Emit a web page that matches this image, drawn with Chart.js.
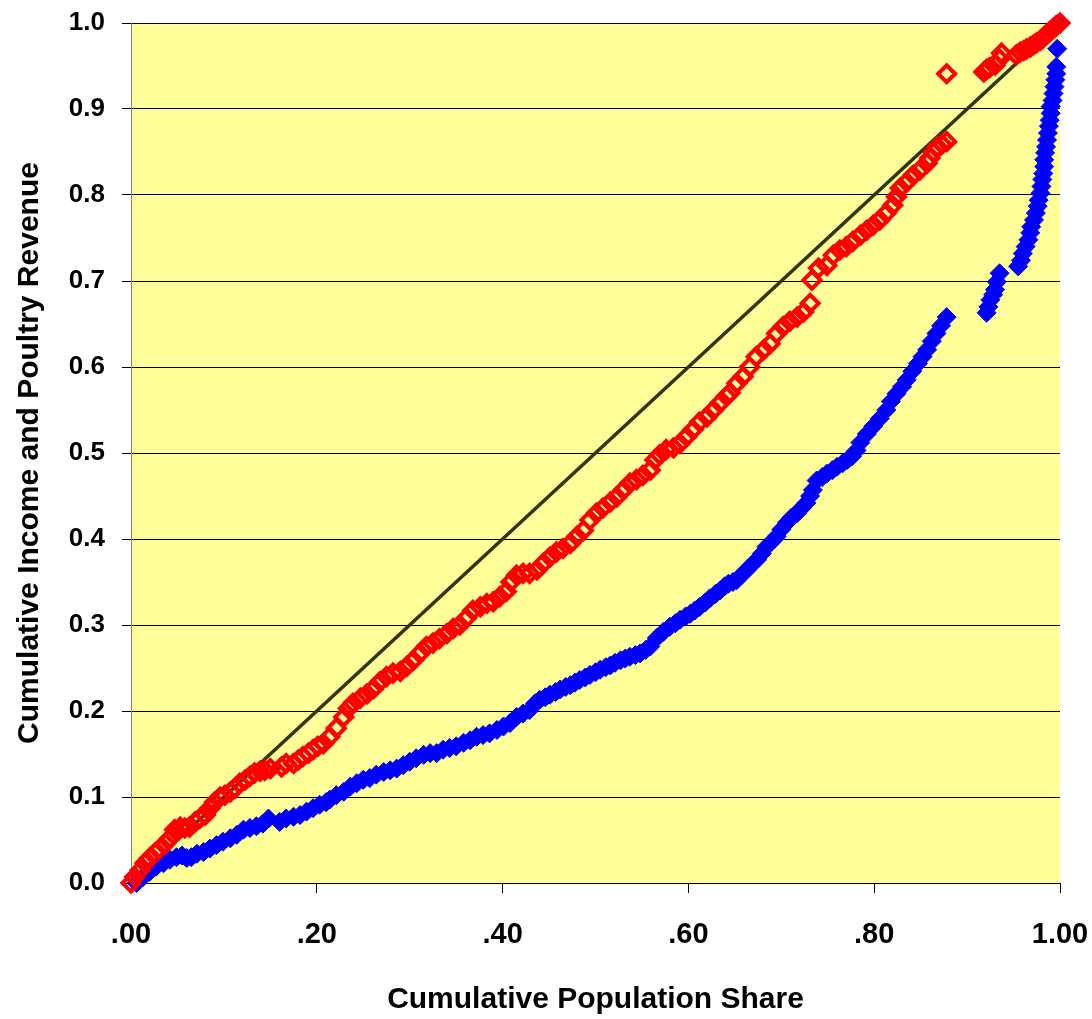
<!DOCTYPE html>
<html>
<head>
<meta charset="utf-8">
<title>Cumulative shares</title>
<script src="https://cdn.jsdelivr.net/npm/chart.js@4/dist/chart.umd.min.js"></script>
<style>
  html, body { margin: 0; padding: 0; background: #fff; }
  #wrap { width: 1092px; height: 1019px; }
</style>
</head>
<body>
<div id="wrap"><canvas id="lorenz" width="1092" height="1019"></canvas></div>
<script>
// --- donnees : [part de population cumulee, part cumulee] ---

// serie rouge (losanges vides)
const redSeries = [
  [0, 0], [0.004, 0.007], [0.010, 0.015], [0.015, 0.023], [0.020, 0.029], [0.026, 0.035], [0.031, 0.040],
  [0.037, 0.046], [0.042, 0.052], [0.047, 0.062], [0.053, 0.065], [0.058, 0.064], [0.063, 0.065], [0.069, 0.071],
  [0.074, 0.075], [0.080, 0.079], [0.085, 0.087], [0.090, 0.094], [0.096, 0.100], [0.101, 0.102], [0.107, 0.106],
  [0.112, 0.110], [0.117, 0.116], [0.123, 0.120], [0.128, 0.124], [0.133, 0.128], [0.139, 0.130], [0.144, 0.131],
  [0.150, 0.133],
  [0.162, 0.135], [0.167, 0.139], [0.175, 0.139], [0.180, 0.143], [0.185, 0.147], [0.191, 0.151], [0.196, 0.155],
  [0.201, 0.159], [0.207, 0.162], [0.214, 0.170], [0.221, 0.180], [0.229, 0.193], [0.234, 0.203], [0.239, 0.209],
  [0.247, 0.215], [0.254, 0.220], [0.261, 0.226], [0.268, 0.234], [0.275, 0.240], [0.282, 0.244], [0.290, 0.246],
  [0.297, 0.252], [0.304, 0.259], [0.311, 0.267], [0.318, 0.275], [0.325, 0.279], [0.332, 0.284], [0.340, 0.290],
  [0.347, 0.296], [0.354, 0.300], [0.361, 0.308], [0.368, 0.317], [0.376, 0.321], [0.383, 0.325], [0.390, 0.327],
  [0.397, 0.333], [0.404, 0.339], [0.409, 0.350], [0.415, 0.358], [0.422, 0.360], [0.429, 0.360], [0.437, 0.364],
  [0.444, 0.372], [0.451, 0.379], [0.458, 0.385], [0.465, 0.389], [0.473, 0.395], [0.480, 0.403], [0.487, 0.410],
  [0.494, 0.422], [0.501, 0.430], [0.508, 0.436], [0.516, 0.443], [0.523, 0.449], [0.530, 0.457], [0.537, 0.465],
  [0.544, 0.469], [0.551, 0.474], [0.559, 0.480], [0.564, 0.492], [0.569, 0.498], [0.576, 0.504], [0.584, 0.506],
  [0.591, 0.511], [0.598, 0.519], [0.605, 0.527], [0.612, 0.536], [0.620, 0.542], [0.627, 0.550], [0.634, 0.558],
  [0.641, 0.566], [0.645, 0.570], [0.652, 0.581], [0.659, 0.589], [0.666, 0.600], [0.673, 0.612], [0.681, 0.620],
  [0.688, 0.627], [0.695, 0.639], [0.702, 0.647], [0.709, 0.653], [0.717, 0.658], [0.724, 0.664], [0.731, 0.674],
  [0.733, 0.701], [0.740, 0.715], [0.749, 0.718], [0.756, 0.730], [0.763, 0.736], [0.770, 0.740], [0.777, 0.746],
  [0.785, 0.753], [0.792, 0.759], [0.799, 0.765], [0.806, 0.771], [0.813, 0.779], [0.820, 0.788], [0.824, 0.798],
  [0.828, 0.808], [0.835, 0.815], [0.842, 0.823], [0.849, 0.829], [0.857, 0.837], [0.860, 0.843], [0.864, 0.850],
  [0.868, 0.856], [0.873, 0.859], [0.878, 0.862],
  [0.878, 0.941],
  [0.918, 0.943], [0.921, 0.946], [0.924, 0.948], [0.930, 0.951], [0.935, 0.958], [0.937, 0.965],
  [0.953, 0.963], [0.957, 0.966], [0.961, 0.968], [0.964, 0.970], [0.968, 0.972], [0.972, 0.975], [0.975, 0.977],
  [0.979, 0.980], [0.982, 0.983], [0.986, 0.987], [0.989, 0.990], [0.993, 0.994], [0.996, 0.997], [1.0, 1.0]
];

// serie bleue (losanges pleins)
const blueSeries = [
  [0.006, 0.0], [0.013, 0.007], [0.020, 0.013], [0.027, 0.019], [0.035, 0.023], [0.042, 0.027], [0.049, 0.030],
  [0.055, 0.032], [0.060, 0.029], [0.065, 0.030], [0.071, 0.034], [0.078, 0.036], [0.085, 0.040], [0.092, 0.044],
  [0.099, 0.048], [0.107, 0.052], [0.114, 0.056], [0.121, 0.062], [0.128, 0.064], [0.135, 0.066], [0.142, 0.069],
  [0.148, 0.075],
  [0.160, 0.071], [0.167, 0.075], [0.175, 0.077], [0.182, 0.079], [0.189, 0.083], [0.196, 0.087], [0.203, 0.091],
  [0.210, 0.094], [0.214, 0.097], [0.221, 0.102], [0.229, 0.106], [0.236, 0.112], [0.243, 0.116], [0.250, 0.120],
  [0.257, 0.122], [0.264, 0.126], [0.272, 0.129], [0.279, 0.131], [0.286, 0.133], [0.293, 0.137], [0.300, 0.141],
  [0.307, 0.145], [0.315, 0.149], [0.322, 0.151], [0.329, 0.151], [0.336, 0.155], [0.343, 0.157], [0.350, 0.159],
  [0.358, 0.163], [0.365, 0.166], [0.372, 0.170], [0.379, 0.172], [0.386, 0.174], [0.394, 0.178], [0.401, 0.182],
  [0.408, 0.186], [0.415, 0.193], [0.422, 0.197], [0.429, 0.201], [0.435, 0.209], [0.440, 0.213], [0.446, 0.216],
  [0.451, 0.219], [0.457, 0.222], [0.462, 0.225], [0.468, 0.228], [0.473, 0.230], [0.478, 0.233], [0.483, 0.236],
  [0.489, 0.239], [0.494, 0.242], [0.500, 0.245], [0.505, 0.248], [0.511, 0.251], [0.516, 0.253], [0.521, 0.256],
  [0.527, 0.259], [0.532, 0.261], [0.537, 0.263], [0.543, 0.265], [0.548, 0.267], [0.554, 0.271], [0.559, 0.275],
  [0.566, 0.285], [0.573, 0.292], [0.580, 0.298], [0.586, 0.302], [0.591, 0.306], [0.597, 0.310], [0.602, 0.313],
  [0.607, 0.317], [0.612, 0.321], [0.618, 0.326], [0.623, 0.331], [0.629, 0.336], [0.634, 0.340], [0.639, 0.345],
  [0.643, 0.348], [0.648, 0.350], [0.652, 0.352], [0.657, 0.358], [0.663, 0.364], [0.668, 0.370], [0.674, 0.376],
  [0.679, 0.383], [0.684, 0.391], [0.690, 0.397], [0.695, 0.403], [0.700, 0.411], [0.706, 0.419], [0.711, 0.425],
  [0.717, 0.430], [0.722, 0.436], [0.727, 0.442], [0.731, 0.450], [0.734, 0.457], [0.738, 0.468], [0.744, 0.472],
  [0.749, 0.476], [0.755, 0.480], [0.760, 0.484], [0.766, 0.488], [0.771, 0.492], [0.776, 0.496], [0.781, 0.503],
  [0.785, 0.512], [0.792, 0.522], [0.799, 0.531], [0.806, 0.540], [0.813, 0.550], [0.818, 0.560], [0.824, 0.569],
  [0.830, 0.577], [0.835, 0.585], [0.841, 0.595], [0.847, 0.604], [0.852, 0.612], [0.857, 0.620], [0.862, 0.630],
  [0.867, 0.639], [0.872, 0.648], [0.878, 0.658],
  [0.921, 0.663], [0.923, 0.670], [0.925, 0.678], [0.928, 0.684], [0.930, 0.690], [0.932, 0.699], [0.935, 0.709],
  [0.955, 0.717], [0.958, 0.724], [0.960, 0.732], [0.963, 0.740], [0.966, 0.748], [0.968, 0.756], [0.969, 0.763],
  [0.972, 0.771], [0.974, 0.779], [0.976, 0.787], [0.977, 0.794], [0.979, 0.802], [0.980, 0.810], [0.981, 0.818],
  [0.982, 0.825], [0.983, 0.833], [0.983, 0.841], [0.984, 0.849], [0.985, 0.856], [0.986, 0.864], [0.987, 0.872],
  [0.988, 0.880], [0.989, 0.887], [0.990, 0.895], [0.990, 0.903], [0.992, 0.910], [0.993, 0.918], [0.994, 0.926],
  [0.995, 0.934], [0.996, 0.941], [0.996, 0.949], [0.997, 0.970], [1.0, 1.0]
];

// droite d'egalite
const equalityLine = [[0, 0], [1, 1]];

// graduations
const xTicks = [0, 0.2, 0.4, 0.6, 0.8, 1.0];
const yTicks = [0, 0.1, 0.2, 0.3, 0.4, 0.5, 0.6, 0.7, 0.8, 0.9, 1.0];

const toPoints = pairs => pairs.map(p => ({ x: p[0], y: p[1] }));

// fond jaune de la zone de tracé
const plotBackground = {
    id: 'plotBackground',
    beforeDraw(chart) {
        const { ctx, chartArea: a } = chart;
        ctx.save();
        ctx.fillStyle = '#FFFF99';
        ctx.fillRect(a.left, a.top, a.right - a.left, a.bottom - a.top);
        ctx.restore();
    }
};

const fontFamily = '"Liberation Sans", Arial, sans-serif';

new Chart(document.getElementById('lorenz'), {
    type: 'scatter',
    data: {
        datasets: [
            {
                label: 'red',
                data: toPoints(redSeries),
                pointStyle: 'rectRot',
                pointRadius: 8.5,
                borderWidth: 4,
                borderColor: '#FF0000',
                backgroundColor: 'rgba(0,0,0,0)',
                clip: false,
                order: 1
            },
            {
                label: 'blue',
                data: toPoints(blueSeries),
                pointStyle: 'rectRot',
                pointRadius: 9.5,
                borderWidth: 1,
                borderColor: '#0000FF',
                backgroundColor: '#0000FF',
                clip: false,
                order: 2
            },
            {
                label: 'equality',
                data: toPoints(equalityLine),
                showLine: true,
                borderColor: '#333300',
                borderWidth: 3.5,
                pointRadius: 0,
                clip: false,
                order: 3
            }
        ]
    },
    options: {
        responsive: false,
        devicePixelRatio: 1,
        animation: false,
        layout: { padding: { left: 0, right: 32, top: 23, bottom: 0 } },
        plugins: {
            legend: { display: false },
            tooltip: { enabled: false }
        },
        scales: {
            x: {
                type: 'linear',
                min: 0,
                max: 1,
                afterFit(scale) {
                    scale.height = 136;
                    scale.paddingLeft = 0;
                    scale.paddingRight = 0;
                },
                afterBuildTicks(scale) { scale.ticks = xTicks.map(v => ({ value: v })); },
                ticks: {
                    color: '#000',
                    padding: 25,
                    maxRotation: 0,
                    font: { family: fontFamily, size: 29, weight: 'bold' },
                    callback: v => v.toFixed(2).replace(/^0/, '')
                },
                grid: {
                    display: true,
                    drawOnChartArea: false,
                    drawTicks: true,
                    tickLength: 10,
                    color: '#000',
                    tickColor: '#000'
                },
                border: { display: true, color: '#000', width: 1 },
                title: {
                    display: true,
                    text: 'Cumulative Population Share',
                    color: '#000',
                    font: { family: fontFamily, size: 30, weight: 'bold' },
                    padding: { top: 0, bottom: 1 }
                }
            },
            y: {
                type: 'linear',
                min: 0,
                max: 1,
                afterFit(scale) {
                    scale.width = 131;
                    scale.paddingTop = 0;
                    scale.paddingBottom = 0;
                },
                afterBuildTicks(scale) { scale.ticks = yTicks.map(v => ({ value: v })); },
                ticks: {
                    color: '#000',
                    padding: 17,
                    font: { family: fontFamily, size: 26, weight: 'bold' },
                    callback: v => v.toFixed(1)
                },
                grid: {
                    color: '#000',
                    lineWidth: 1,
                    drawTicks: true,
                    tickLength: 9,
                    tickColor: '#000'
                },
                border: { display: true, color: '#808080', width: 1 },
                title: {
                    display: true,
                    text: 'Cumulative Income and Poultry Revenue',
                    color: '#000',
                    font: { family: fontFamily, size: 30, weight: 'bold' },
                    padding: { top: 12, bottom: 0 }
                }
            }
        }
    },
    plugins: [plotBackground]
});
</script>
</body>
</html>
